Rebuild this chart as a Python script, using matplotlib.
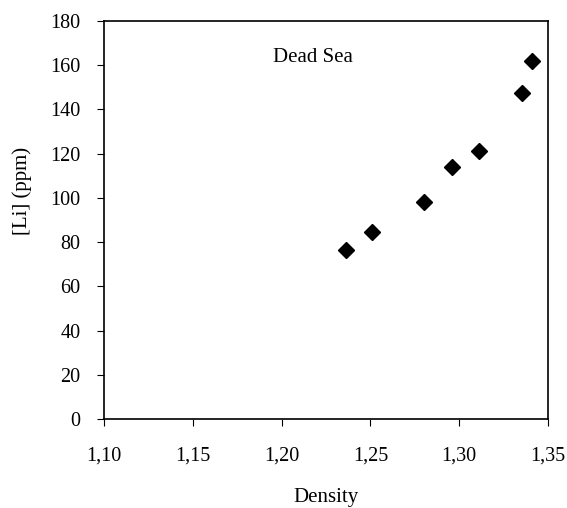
import matplotlib
matplotlib.use("Agg")
import matplotlib.pyplot as plt

# Dead Sea brine: density vs lithium
density = [1.236, 1.251, 1.280, 1.296, 1.311, 1.3355, 1.341]
li_ppm = [76.6, 84.5, 98.2, 114.0, 121.2, 147.2, 162.0]

x_ticks = [1.10, 1.15, 1.20, 1.25, 1.30, 1.35]
x_tick_labels = ["1,10", "1,15", "1,20", "1,25", "1,30", "1,35"]
y_ticks = [0, 20, 40, 60, 80, 100, 120, 140, 160, 180]

plt.rcParams['font.family'] = ['Liberation Serif', 'DejaVu Serif']

fig = plt.figure(figsize=(5.67, 5.08), dpi=100)
ax = fig.add_axes([0.1834, 0.1752, 0.7831, 0.7838])

ax.plot(density, li_ppm, linestyle='none', marker='D', markersize=8.3,
        color='black')

ax.set_xlim(1.10, 1.35)
ax.set_ylim(0, 180)
ax.set_xticks(x_ticks)
ax.set_xticklabels(x_tick_labels)
ax.set_yticks(y_ticks)
ax.tick_params(axis='both', direction='out', length=5, width=0.8,
               labelsize=14.5, colors='black')
ax.tick_params(axis='x', pad=15)
ax.tick_params(axis='y', pad=12)

for s in ax.spines.values():
    s.set_linewidth(1.2)

ax.text(1.2177, 163.5, "Dead Sea", fontsize=15, ha='center', va='center')

ax.set_xlabel("Density", fontsize=15, labelpad=16)
ax.set_ylabel("[Li] (ppm)", fontsize=15)
# label sits a bit above the middle in the original
ax.yaxis.set_label_coords(-0.162, 0.574)

fig.savefig("out.png", dpi=100)
